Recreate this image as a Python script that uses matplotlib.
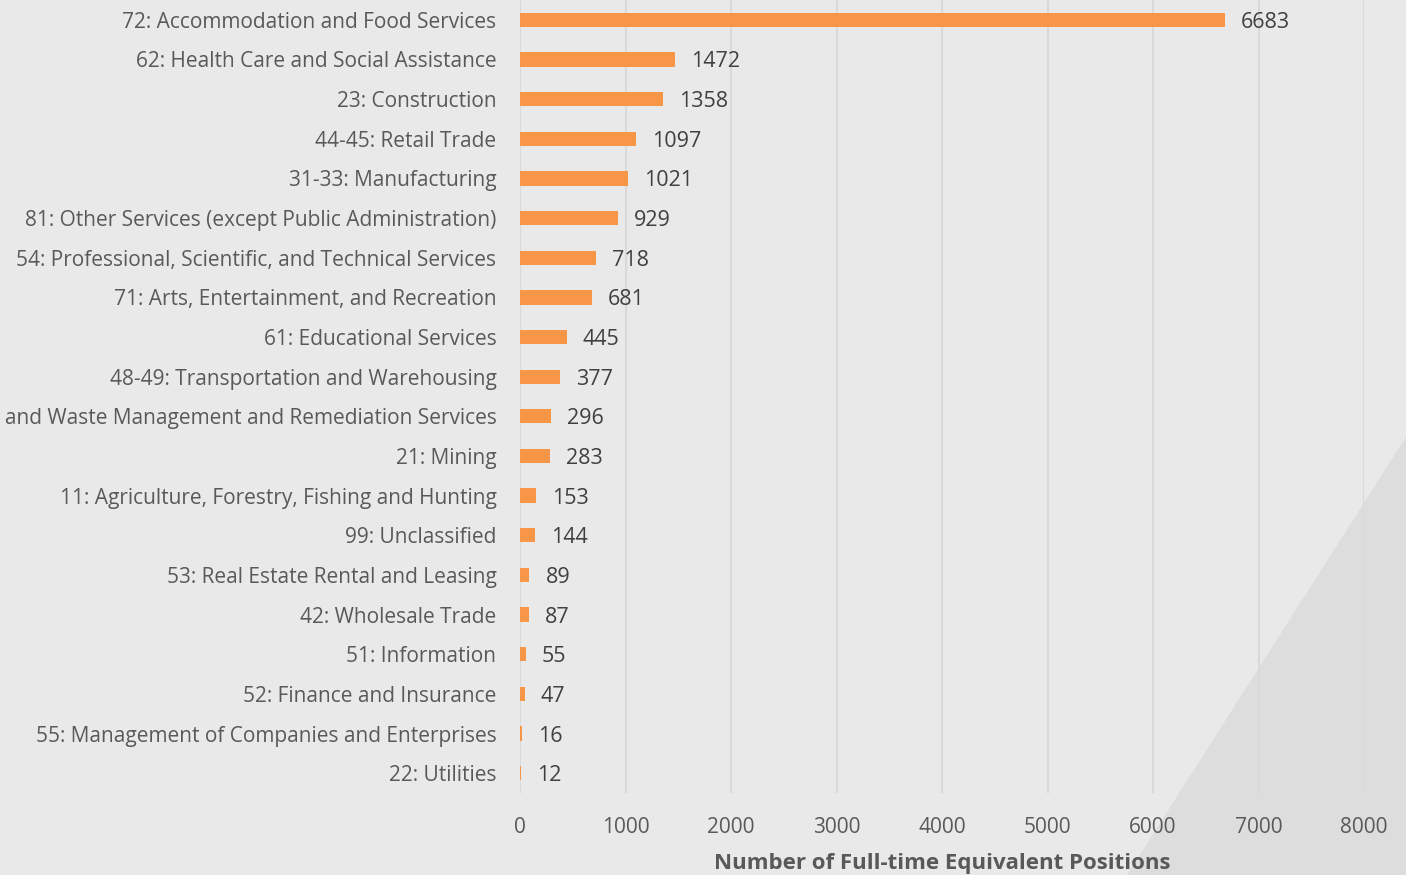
import matplotlib
matplotlib.use("Agg")
import matplotlib.pyplot as plt
from matplotlib.patches import Polygon

categories = [
    "72: Accommodation and Food Services",
    "62: Health Care and Social Assistance",
    "23: Construction",
    "44-45: Retail Trade",
    "31-33: Manufacturing",
    "81: Other Services (except Public Administration)",
    "54: Professional, Scientific, and Technical Services",
    "71: Arts, Entertainment, and Recreation",
    "61: Educational Services",
    "48-49: Transportation and Warehousing",
    "56: Administrative and Support and Waste Management and Remediation Services",
    "21: Mining",
    "11: Agriculture, Forestry, Fishing and Hunting",
    "99: Unclassified",
    "53: Real Estate Rental and Leasing",
    "42: Wholesale Trade",
    "51: Information",
    "52: Finance and Insurance",
    "55: Management of Companies and Enterprises",
    "22: Utilities",
]
values = [6683, 1472, 1358, 1097, 1021, 929, 718, 681, 445, 377, 296, 283, 153, 144, 89, 87, 55, 47, 16, 12]
xticks = [0, 1000, 2000, 3000, 4000, 5000, 6000, 7000, 8000]
xlabel = "Number of Full-time Equivalent Positions"

plt.rcParams['font.family'] = ['Open Sans', 'DejaVu Sans']

bg = "#e9e9e9"
fig = plt.figure(figsize=(14.06, 8.75), dpi=100, facecolor=bg)

# background layer with decorative triangle
ax_bg = fig.add_axes([0, 0, 1, 1], zorder=-1)
ax_bg.set_xlim(0, 1)
ax_bg.set_ylim(0, 1)
ax_bg.axis('off')
ax_bg.add_patch(Polygon([(1127/1406, 0), (1.0, (875-437)/875), (1.0, 0)], closed=True,
                        facecolor="#dddddd", edgecolor="none"))

ax = fig.add_axes([520/1406, (875-793)/875, (1364-520)/1406, 793/875], zorder=1)
ax.set_facecolor("none")

n = len(categories)
ypos = list(range(n))
ax.barh(ypos, values, height=0.36, color="#f79646", zorder=3)
ax.set_ylim(n - 0.5, -0.5)
ax.set_xlim(0, 8000)
ax.set_yticks(ypos)
ax.set_yticklabels(categories, fontsize=15, color="#595959")
ax.set_xticks(xticks)
ax.set_xticklabels([str(t) for t in xticks], fontsize=15, color="#595959")
for lbl in ax.get_yticklabels():
    lbl.set_verticalalignment('center_baseline')
ax.tick_params(axis='both', length=0)
ax.tick_params(axis='y', pad=17)
ax.tick_params(axis='x', pad=17)
ax.grid(axis='x', color="#d9d9d9", linewidth=1.5, zorder=0)
ax.grid(axis='y', visible=False)
for s in ax.spines.values():
    s.set_visible(False)

for y, v in zip(ypos, values):
    ax.annotate(str(v), (v, y), xytext=(16, 0), textcoords="offset pixels",
                va='center_baseline', ha='left', fontsize=15.5, color="#404040")

ax.set_xlabel(xlabel, fontsize=16, fontweight='bold', color="#595959", labelpad=11)

fig.savefig("out.png", dpi=100, facecolor=bg)
